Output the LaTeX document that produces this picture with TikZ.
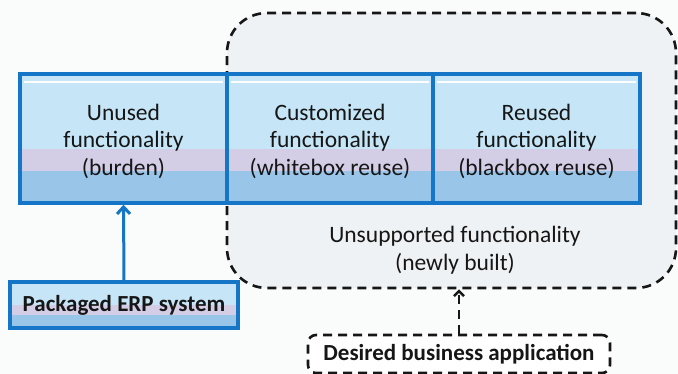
\documentclass[tikz,border=0pt]{standalone}
\usepackage{fontspec}
\setmainfont{Carlito}
\usetikzlibrary{arrows.meta,calc}

\definecolor{frameblue}{RGB}{21,118,199}
\definecolor{paleblue}{RGB}{198,230,247}
\definecolor{lavender}{RGB}{212,205,230}
\definecolor{midblue}{RGB}{152,197,232}
\definecolor{regionfill}{RGB}{238,242,245}
\definecolor{pagefill}{RGB}{250,251,251}
\definecolor{ink}{RGB}{22,22,22}

\tikzset{
  % three-tone fill: pale blue, then a lavender band, then a deeper blue
  bandfill/.style 2 args={path picture={
    \path (path picture bounding box.north west) coordinate (bnw)
          (path picture bounding box.south west) coordinate (bsw)
          (path picture bounding box.south east) coordinate (bse);
    \fill[paleblue] (bnw) rectangle (bse);
    \fill[lavender] ($(bnw)!#1!(bsw)$) rectangle (bse);
    \fill[midblue] ($(bnw)!#2!(bsw)$) rectangle (bse);
  }},
  cell/.style={draw=frameblue, line width=3.5pt, bandfill={0.585}{0.755},
    minimum height=129pt, inner sep=0pt},
  celltext/.style={align=center, text=ink, inner sep=0pt,
    font=\fontsize{23.5}{27.5}\selectfont},
  erpbox/.style={draw=frameblue, line width=3.5pt, bandfill={0.5}{0.72},
    minimum width=228pt, minimum height=46pt, inner sep=0pt, text=ink,
    font=\bfseries\fontsize{23}{27}\selectfont},
  region/.style={draw=ink, fill=regionfill, line width=2.6pt,
    dash pattern=on 9pt off 6pt, rounded corners=40pt,
    minimum width=449pt, minimum height=275pt, inner sep=0pt},
  appbox/.style={draw=ink, fill=white, line width=2.6pt,
    dash pattern=on 9pt off 6pt, rounded corners=8pt,
    minimum width=302pt, minimum height=38pt, inner sep=0pt, text=ink,
    font=\bfseries\fontsize{23}{27}\selectfont},
  plain/.style={align=center, text=ink, inner sep=0pt,
    font=\fontsize{23.5}{28}\selectfont},
  bluearrow/.style={draw=frameblue, line width=3pt,
    -{Straight Barb[length=7pt,width=13pt,line width=3pt]}},
  dasharrow/.style={draw=ink, line width=2.6pt, dash pattern=on 9pt off 6pt,
    -{Straight Barb[length=5pt,width=10pt,line width=2.6pt]}},
}

\begin{document}
\begin{tikzpicture}[x=1pt, y=-1pt]
  \useasboundingbox (0,0) rectangle (678,374);
  \fill[pagefill] (0,0) rectangle (678,374);

  % dashed area of the desired application
  \node[region] (region) at (451.5,150.5) {};

  % packaged system functionality, split into three cells
  \node[cell, minimum width=207pt] (unused) at (123.5,138.5) {};
  \node[cell, minimum width=206pt] (custom) at (330,138.5) {};
  \node[cell, minimum width=207pt] (reused) at (536.5,138.5) {};

  % white highlight strips along the top of each cell
  \foreach \c in {unused,custom,reused}{
    \draw[white, line width=2.5pt]
      ($(\c.north west)+(6pt,-10pt)$) -- ($(\c.north east)+(-6pt,-10pt)$);
  }

  \node[celltext] (unusedtext) at (123.5,141) {Unused\\functionality\\(burden)};
  \node[celltext] (customtext) at (330,141) {Customized\\functionality\\(whitebox reuse)};
  \node[celltext] (reusedtext) at (536.5,141) {Reused\\functionality\\(blackbox reuse)};

  \node[plain] (unsup) at (455,250)
    {Unsupported functionality\\(newly built)};

  \node[erpbox] (erp) at (124,305) {Packaged ERP system};
  \node[appbox] (app) at (459,354) {Desired business application};

  \draw[bluearrow] (erp.north) -- (unused.south);
  \draw[dasharrow] (app.north) -- (app.north |- region.south);
\end{tikzpicture}
\end{document}
